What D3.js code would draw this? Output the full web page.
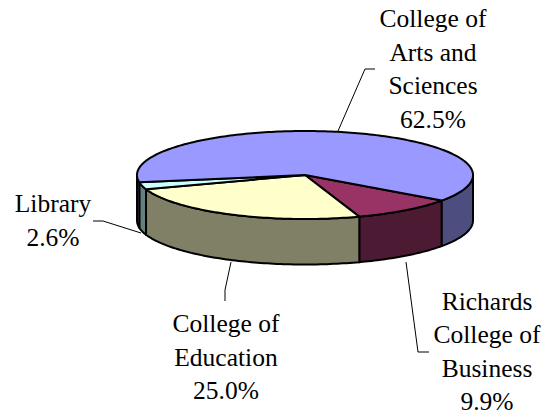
<!DOCTYPE html>
<html><head><meta charset="utf-8">
<script src="https://cdnjs.cloudflare.com/ajax/libs/d3/7.8.5/d3.min.js"></script>
<style>html,body{margin:0;background:#fff}svg{display:block}text{font-family:"Liberation Serif",serif;font-size:25.5px;fill:#000}</style>
</head><body><svg width="557" height="417"></svg>
<script>
const categories=["Richards College of Business","College of Education","Library","College of Arts and Sciences"];
const values=[9.9,25.0,2.6,62.5];
const topColors=["#993366","#ffffcc","#ccffff","#9999ff"];
const sideColors=["#4d1a33","#808066","#668080","#4d4d80"];
const labelLines=[["Richards","College of","Business","9.9%"],["College of","Education","25.0%"],["Library","2.6%"],["College of","Arts and","Sciences","62.5%"]];
const labelPos=[[487,310,33.4],[226,332,33.5],[53,212,34],[433,27,33.7]];
const leaders=[[[406,262],[418,352],[429,352]],[[231,262],[225,290],[225,301]],[[141,233],[103,221],[93,221]],[[338,131],[365,69],[375,69]]];

const svg=d3.select("svg");
const x=d3.scaleLinear().domain([-1,1]).range([137,473]);
const y=d3.scaleLinear().domain([-1,1]).range([131,219]);
const depth=45.5;
const startDeg=35.5;
const pie=d3.pie().sort(null).startAngle(startDeg*Math.PI/180).endAngle((startDeg+360)*Math.PI/180);
const arcs=pie(values);
const line=d3.line();
const pt=(a,dy=0)=>[x(Math.cos(a)),y(Math.sin(a))+dy];
const samples=(a0,a1)=>{const n=Math.max(2,Math.ceil(Math.abs(a1-a0)/0.02));return d3.range(n+1).map(i=>a0+(a1-a0)*i/n);};

// side walls: visible part of the rim lies between 0 and PI (screen-down)
const walls=[];
arcs.forEach((d,i)=>{
  [[d.startAngle,d.endAngle],[d.startAngle-2*Math.PI,d.endAngle-2*Math.PI]].forEach(([a,b])=>{
    const a0=Math.max(a,0),a1=Math.min(b,Math.PI);
    if(a1>a0)walls.push({i,a0,a1});
  });
});
svg.append("g").selectAll("path").data(walls).join("path")
  .attr("d",w=>{const s=samples(w.a0,w.a1);return line([...s.map(a=>pt(a)),...s.reverse().map(a=>pt(a,depth))])+"Z";})
  .attr("fill",w=>sideColors[w.i]).attr("stroke","#000").attr("stroke-width",2).attr("stroke-linejoin","round");

svg.append("g").selectAll("path").data(arcs).join("path")
  .attr("d",d=>line([[x(0),y(0)],...samples(d.startAngle,d.endAngle).map(a=>pt(a))])+"Z")
  .attr("fill",(d,i)=>topColors[i]).attr("stroke","#000").attr("stroke-width",2).attr("stroke-linejoin","round");

svg.append("g").selectAll("path").data(leaders).join("path")
  .attr("d",d=>line(d)).attr("fill","none").attr("stroke","#000").attr("stroke-width",1);

labelLines.forEach((ls,i)=>{
  const [lx,ly,lh]=labelPos[i];
  ls.forEach((t,j)=>svg.append("text").attr("x",lx).attr("y",ly+j*lh).attr("text-anchor","middle").text(t));
});
</script></body></html>
